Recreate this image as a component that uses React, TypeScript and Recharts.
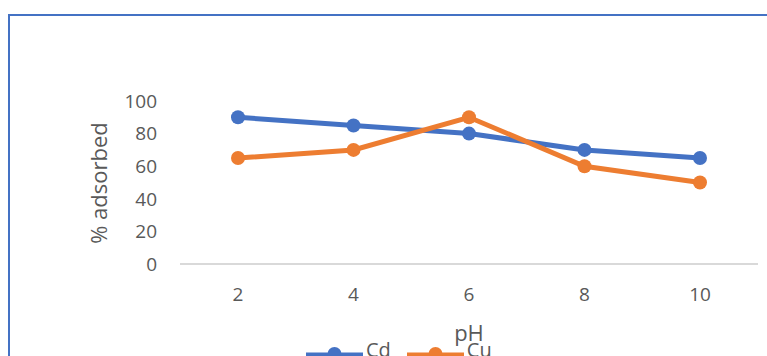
import React from "react";
import { LineChart, Line, XAxis, YAxis, Legend } from "recharts";

const phValues = ["2", "4", "6", "8", "10"];
const cdAdsorbed = [90, 85, 80, 70, 65];
const cuAdsorbed = [65, 70, 90, 60, 50];
const yTicks = [0, 20, 40, 60, 80, 100];

const BLUE = "#4472C4";
const ORANGE = "#ED7D31";
const TEXT = "#595959";
const FONT = "'Open Sans', 'Noto Sans', sans-serif";

const data = phValues.map((ph, i) => ({ ph, Cd: cdAdsorbed[i], Cu: cuAdsorbed[i] }));

const series = [
  { key: "Cd", color: BLUE },
  { key: "Cu", color: ORANGE },
];

const LegendContent = () => (
  <div style={{ display: "flex", alignItems: "flex-start", paddingLeft: 306, fontFamily: FONT }}>
    {series.map((s) => (
      <div key={s.key} style={{ display: "flex", alignItems: "flex-start", marginRight: 16 }}>
        <svg width={57} height={20} style={{ display: "block", marginTop: 1 }}>
          <line x1={0} y1={14} x2={57} y2={14} stroke={s.color} strokeWidth={5} />
          <circle cx={28.5} cy={13} r={7} fill={s.color} />
        </svg>
        <span style={{ fontSize: 20, color: TEXT, lineHeight: "20px", marginLeft: 3, marginTop: 0 }}>{s.key}</span>
      </div>
    ))}
  </div>
);

const YLabel = () => (
  <text
    x={107}
    y={183}
    transform="rotate(-90, 107, 183)"
    textAnchor="middle"
    fill={TEXT}
    fontSize={22}
    fontFamily={FONT}
  >
    % adsorbed
  </text>
);

export default function App() {
  return (
    <div
      style={{
        position: "absolute",
        left: 0,
        top: 0,
        width: 767,
        height: 356,
        overflow: "hidden",
        background: "#fff",
      }}
    >
      <div
        style={{
          position: "absolute",
          left: 8,
          top: 14,
          width: 800,
          height: 400,
          border: `2px solid ${BLUE}`,
          boxSizing: "border-box",
        }}
      />
      <div style={{ position: "absolute", left: 0, top: 0 }}>
        <LineChart
          width={767}
          height={356}
          data={data}
          margin={{ top: 101, right: 9, bottom: 0, left: 0 }}
        >
          <XAxis
            dataKey="ph"
            height={92}
            padding={{ left: 58, right: 58 }}
            axisLine={{ stroke: "#D9D9D9", strokeWidth: 2 }}
            tickLine={false}
            tickSize={0}
            tickMargin={24}
            tick={{ fill: TEXT, fontSize: 19, fontFamily: FONT }}
            label={{
              value: "pH",
              position: "insideTop",
              offset: 61,
              fill: TEXT,
              fontSize: 22,
              fontFamily: FONT,
            }}
          />
          <YAxis
            width={180}
            domain={[0, 100]}
            ticks={yTicks}
            axisLine={false}
            tickLine={false}
            tickSize={0}
            tickMargin={23}
            tick={{ fill: TEXT, fontSize: 19, fontFamily: FONT }}
            label={<YLabel />}
          />
          <Legend
            verticalAlign="middle"
            align="center"
            layout="horizontal"
            wrapperStyle={{ left: 0, top: 340, width: 767, height: 30 }}
            content={<LegendContent />}
          />
          {series.map((s) => (
            <Line
              key={s.key}
              dataKey={s.key}
              stroke={s.color}
              strokeWidth={5}
              dot={{ r: 7, fill: s.color, stroke: s.color, strokeWidth: 0 }}
              activeDot={false}
              isAnimationActive={false}
            />
          ))}
        </LineChart>
      </div>
    </div>
  );
}
